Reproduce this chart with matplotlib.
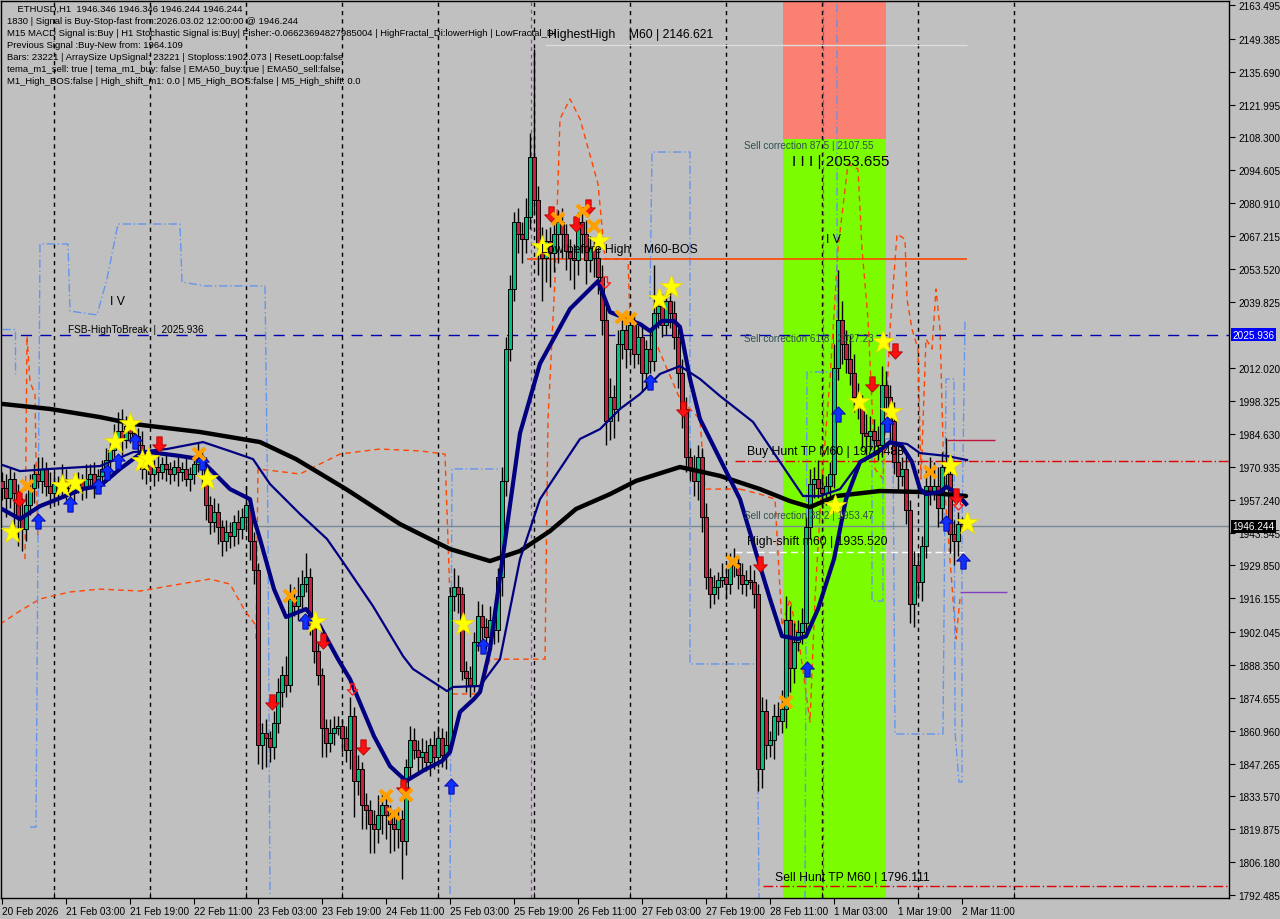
"""
    ethusd_h1_chart.py
    ~~~~~~~~~~~~~~~~~~

    :synopsis: MT4 風の ETHUSD H1 チャートを描く。
"""

# 3rd party modules
import numpy as np
from matplotlib import pyplot as plt
from matplotlib.path import Path
from matplotlib.patches import Rectangle


# ---- データ (価格はチャートから目視で読み取り) ----
first_open = 1965.0
closes = [
    1962, 1958, 1966, 1960, 1950, 1945, 1955, 1962, 1968, 1965, 1970, 1963, 1960,
    1964, 1961, 1966, 1962, 1960, 1963, 1965, 1962, 1966, 1968, 1964, 1967,
    1970, 1974, 1978, 1983, 1986, 1982, 1988, 1985,
    1984, 1980, 1970, 1973, 1968, 1971, 1969, 1972, 1970, 1968, 1971, 1969, 1970, 1966, 1968, 1972, 1975, 1970,
    1955, 1948, 1952, 1946, 1940, 1944, 1942, 1948, 1945, 1950, 1955, 1940, 1928,
    1855, 1860, 1858, 1854, 1864, 1877, 1884, 1880, 1916, 1913, 1917, 1922, 1925, 1905, 1894, 1884,
    1862, 1856, 1860, 1862, 1863, 1858, 1853, 1867, 1840, 1845, 1830, 1828, 1822, 1820, 1826, 1830, 1826, 1822, 1820, 1824,
    1815, 1846, 1857, 1853, 1850, 1852, 1848, 1855, 1850, 1858, 1851, 1855, 1917, 1921, 1918, 1886, 1883, 1880, 1898, 1909,
    1904, 1900, 1907, 1903, 1925, 1965, 2020, 2045,
    2073, 2068, 2066, 2075, 2100, 2082, 2063, 2058, 2065, 2060, 2068, 2073, 2068, 2061, 2058, 2057, 2073, 2068, 2057, 2062, 2058, 2050,
    2032, 1990, 2000, 1995, 2022, 2028, 2020, 2030, 2018, 2025, 2010, 2020, 2015, 2035, 2038, 2030, 2040, 2035, 2025, 2010,
    1995, 1975, 1970, 1965, 1975, 1950,
    1925, 1918, 1921, 1924, 1925, 1922, 1930, 1931, 1926, 1922, 1924, 1923, 1918, 1845, 1869, 1855, 1857, 1867, 1865, 1870,
    1907, 1887, 1898, 1902, 1906, 1946,
    1964, 1966, 1962, 1960, 1963, 1968, 2012, 2032, 2022, 2016, 2010, 2000, 1996, 1985, 1984, 1986, 1982, 1980, 2005, 2000,
    1990, 1973, 1967, 1970, 1953, 1914, 1930, 1923, 1938, 1963, 1961, 1963, 1954, 1971, 1968, 1943, 1940, 1947, 1946.244,
]
upper_wick = [
    4, 6, 5, 3, 4, 8, 5, 6, 4, 7, 5, 3, 6,
    5, 3, 6, 4, 3, 5, 4, 3, 6, 4, 5, 3,
    4, 5, 3, 6, 8, 9, 4, 5,
    4, 3, 6, 3, 4, 3, 5, 3, 4, 3, 3, 4, 3, 5, 3, 4, 6, 3,
    5, 4, 6, 4, 3, 5, 4, 3, 5, 4, 8, 3, 4,
    3, 4, 6, 3, 5, 6, 4, 8, 6, 5, 8, 6, 10, 4, 3, 4,
    3, 4, 6, 5, 4, 3, 5, 8, 4, 6, 3, 5, 4, 6, 8, 5, 3, 4, 6, 5,
    4, 3, 6, 5, 4, 6, 5, 3, 6, 5, 4, 6, 4, 8, 5, 3, 4, 5, 4, 6,
    5, 4, 6, 5, 4, 6, 5, 6,
    4, 6, 5, 8, 10, 45, 6, 8, 5, 6, 4, 5, 6, 4, 5, 6, 4, 5, 6, 5, 4, 6,
    5, 6, 8, 5, 6, 4, 5, 6, 4, 5, 6, 4, 8, 20, 6, 5, 4, 6, 5, 4, 6, 5, 4, 6, 5, 4,
    6, 4, 5, 3, 6, 4, 5, 6, 3, 5, 4, 6, 5, 4, 6, 5, 4, 5, 6, 8, 10, 6, 8, 5, 6, 4,
    6, 5, 8, 6, 4, 5, 10, 21, 8, 6, 10, 8, 6, 5, 8, 6, 5, 6, 8, 6,
    5, 8, 6, 5, 6, 4, 6, 5, 4, 8, 12, 10, 8, 6, 12, 8, 6, 5, 3,
]
lower_wick = [
    5, 8, 4, 15, 12, 9, 5, 4, 6, 3, 5, 4, 6,
    4, 6, 3, 5, 6, 4, 3, 5, 4, 3, 6, 4,
    3, 4, 5, 3, 4, 6, 3, 4,
    3, 5, 4, 6, 3, 5, 4, 3, 5, 4, 3, 6, 4, 3, 5, 4, 3, 6,
    6, 5, 4, 7, 6, 4, 5, 4, 6, 4, 5, 8, 6,
    8, 10, 12, 6, 5, 4, 6, 5, 3, 4, 6, 5, 3, 4, 5, 4,
    12, 6, 4, 5, 3, 6, 5, 8, 15, 6, 10, 8, 12, 10, 6, 8, 10, 12, 9, 8,
    16, 6, 5, 4, 6, 5, 4, 6, 5, 4, 5, 6, 3, 6, 8, 4, 6, 5, 3, 4,
    6, 5, 4, 6, 5, 8, 6, 5,
    5, 8, 10, 6, 5, 6, 12, 18, 10, 14, 8, 12, 10, 8, 9, 12, 6, 8, 10, 5, 8, 7,
    6, 10, 8, 12, 5, 6, 8, 5, 6, 4, 8, 6, 5, 4, 6, 5, 4, 6, 5, 6, 8, 6, 5, 6, 8, 6,
    5, 6, 4, 5, 3, 6, 4, 5, 6, 4, 5, 3, 6, 9, 8, 6, 5, 8, 6, 5, 8, 10, 6, 4, 5, 6,
    5, 6, 4, 6, 5, 4, 6, 5, 8, 6, 5, 6, 5, 6, 8, 6, 5, 6, 5, 6,
    8, 5, 6, 4, 6, 8, 10, 6, 8, 5, 6, 4, 8, 6, 5, 8, 10, 6, 2,
]

# 移動平均 (バー位置, 価格)
ema200_bar = [0, 12, 24.5, 33, 49.5, 64.5, 73.5, 86, 99.5, 112, 122, 129.5, 137, 143.5, 152,
              158.5, 169.5, 179.5, 189.5, 197, 202, 208.5, 219.5, 229.5, 241]
ema200_val = [1997.2, 1995.1, 1991.7, 1988.8, 1985.5, 1981.3, 1974.2, 1961.7, 1947.1, 1936.7,
              1931.7, 1935.9, 1944.2, 1953.4, 1959.6, 1965.1, 1970.9, 1967.2, 1961.7, 1956.7,
              1954.2, 1958.8, 1960.9, 1960.5, 1958.8]
ema_fast_bar = [0, 4.5, 9.5, 17, 20, 24.5, 29.5, 34.5, 37, 44.5, 49.5, 52, 57, 62, 63, 64.5, 68, 71,
                76, 79.5, 84, 87, 93, 97, 101, 106, 110, 112, 114.5, 118, 119.5, 122, 124.5, 129.5,
                134.5, 142, 149, 152, 154.5, 159.5, 162, 165, 168, 169.5, 172, 174.5, 179.5, 184.5,
                189.5, 192, 195, 199, 201, 204, 208, 211, 214.5, 219, 222, 225, 227.5, 229.5, 231,
                234.5, 236, 238, 239.5, 241]
ema_fast_val = [1953.4, 1949.2, 1954.6, 1959.6, 1961.7, 1963.0, 1970.1, 1976.3, 1977.1, 1975.5,
                1974.2, 1970.1, 1961.7, 1957.5, 1949.2, 1940.9, 1920.0, 1908.4, 1911.7, 1904.6,
                1890.8, 1882.5, 1858.7, 1846.2, 1840.0, 1845.0, 1848.3, 1852.1, 1868.8, 1874.2,
                1877.1, 1895.0, 1925.0, 1985.0, 2014.0, 2036.8, 2048.4, 2035.5, 2033.8, 2030.5,
                2027.6, 2031.8, 2031.8, 2029.3, 2007.6, 1990.9, 1974.2, 1957.5, 1929.6, 1915.9,
                1900.4, 1899.2, 1900.4, 1911.7, 1932.5, 1957.5, 1973.0, 1977.1, 1981.3, 1979.6,
                1973.0, 1961.7, 1959.6, 1960.5, 1962.6, 1960.9, 1958.4, 1955.5]
ema_slow_bar = [-0.5, 4.5, 12, 24.5, 32.75, 41.25, 50.25, 57.75, 62.75, 67, 74.5, 81.25, 85.25,
                92.75, 100.25, 102.75, 111.25, 112.75, 119.5, 124.5, 129.5, 134.5, 139.5, 144.5,
                149.5, 154.5, 159.5, 164.5, 169.5, 174.5, 179.5, 187.75, 194.5, 200.25, 204.5,
                209.5, 214.5, 219.5, 222.75, 226.25, 229.5, 236.25, 241.25]
ema_slow_val = [1972.1, 1969.2, 1970.1, 1971.3, 1977.1, 1978.4, 1981.3, 1977.1, 1974.2, 1963.8,
                1951.3, 1940.9, 1931.3, 1912.9, 1892.1, 1886.7, 1877.5, 1879.2, 1879.6, 1890.8,
                1932.5, 1957.5, 1970.1, 1982.6, 1986.7, 1995.1, 2001.3, 2009.7, 2013.0, 2007.6,
                2000.5, 1989.7, 1973.0, 1958.8, 1958.8, 1961.7, 1973.0, 1978.4, 1981.3, 1980.5,
                1976.7, 1975.5, 1973.8]

# 階段状の補助線 (オレンジ破線 / 青一点鎖線)
orange_steps = [
    ([5.75, 6.25, 7, 8.25, 8.5, 9],
     [1932.5, 2025.5, 2006.3, 2001.3, 1974.2, 1940.9]),
    ([-0.5, 4.5, 9.5, 17, 24.5, 34.5, 44.5, 52, 57, 60.75, 63.25],
     [1905.4, 1910.9, 1915.9, 1918.8, 1920.0, 1919.2, 1922.1, 1924.2, 1922.1, 1910.9, 1905.4]),
    ([63.5, 64, 74.5, 84.5, 94.5, 104.5, 110.75, 112, 112.5, 119.5, 122, 135.75, 136.5, 138.25,
      139.5, 142, 144.5, 149, 150.75, 156.5, 157, 162, 169.5, 174.5, 175.75, 184.5],
     [1899.2, 1970.1, 1968.0, 1976.3, 1978.4, 1977.6, 1976.3, 1915.9, 1876.3, 1876.3, 1890.8,
      1890.8, 1990.9, 2049.3, 2116.0, 2124.3, 2116.0, 2088.9, 2057.6, 2057.6, 2032.6, 2028.4,
      1999.2, 1990.9, 1961.7, 1961.7]),
    ([184.5, 189.5, 193.25, 195, 197, 199.5, 202, 203.25, 205, 207, 209, 211.5, 214, 215, 216.5,
      218.25, 220.25, 222, 223.75, 225.75, 226.25, 227.5, 229, 229.75, 231, 232.5, 233.5, 234.5,
      235.5, 237, 238.5, 239.5],
     [1961.7, 1959.6, 1957.5, 1904.6, 1915.9, 1895.0, 1864.6, 1915.9, 1965.9, 2007.6, 2061.8,
      2097.2, 2095.1, 2061.8, 2032.6, 1970.1, 1965.9, 2028.4, 2068.0, 2065.9, 2040.9, 2028.4,
      2020.1, 1965.9, 2024.3, 2020.1, 2045.1, 2028.4, 1965.9, 1932.5, 1899.2, 1915.9]),
]
blue_steps = [
    ([0, 3.25, 3.25], [2028.4, 2028.4, 2009.7]),
    ([7, 8.5, 9, 9.5, 16.5, 17, 23.75, 26.25, 29, 44.5, 45, 50.75, 65.75, 66.5, 67],
     [1820.8, 1820.8, 1940.9, 2063.9, 2063.9, 2035.9, 2034.3, 2049.3, 2072.2, 2072.2, 2048.0,
      2046.4, 2046.4, 1945.0, 1792.9]),
    ([112, 112.5, 124], [1792.9, 1970.1, 1970.1]),
    ([162, 162.5, 172, 172, 188.75, 189.25], [2040.9, 2102.2, 2102.2, 1888.8, 1888.8, 1790.8]),
    ([200.75, 201.25, 208.75, 208.75], [1790.8, 2010.5, 2010.5, 2163.9]),
    ([217.5, 217.5, 220.25, 220.25, 222.75, 223.25, 235.25, 236, 238, 238.25, 239.25, 240, 240, 240.75],
     [1982.6, 1915.0, 1915.0, 1982.6, 1982.6, 1859.6, 1859.6, 2007.6, 2007.6, 1860.4, 1839.6,
      1839.6, 1945.0, 2032.6]),
]

# シグナル (バー位置, 価格)
star_bar = [2.5, 15, 18.25, 28.25, 32, 35, 36.5, 51.25, 78.25, 115.25, 135, 149.25, 164.25,
            167.25, 220.25, 214.25, 222.25, 208.25, 237, 241.25]
star_val = [1943.8, 1963.0, 1964.2, 1981.3, 1988.8, 1973.4, 1974.2, 1965.9, 1906.3, 1905.4,
            2062.6, 2065.1, 2040.9, 2045.9, 2023.0, 1998.0, 1993.8, 1954.6, 1971.3, 1947.5]
buy_bar = [9, 17, 24, 26.25, 29, 33.25, 50, 75.75, 112.25, 120.25, 162, 209, 221.25, 236, 240.25, 201.25]
buy_val = [1948.4, 1955.5, 1963.0, 1968.8, 1973.4, 1981.7, 1973.0, 1906.7, 1837.9, 1896.3,
           2006.3, 1993.0, 1988.8, 1947.5, 1931.7, 1886.7]
sell_bar = [4.25, 39.25, 67.5, 80.25, 90.25, 100.25, 137.25, 143.5, 146.5, 170.25, 189.5,
            223.25, 217.5, 238.5]
sell_val = [1957.5, 1980.5, 1872.9, 1898.4, 1854.2, 1837.5, 2076.4, 2072.2, 2079.3, 1995.1,
            1930.4, 2019.3, 2005.5, 1958.8]
cross_bar = [6.25, 49.25, 72, 96, 98, 101, 139, 145.25, 148, 155, 157, 196, 182.75, 232]
cross_val = [1963.0, 1976.3, 1917.1, 1833.7, 1826.2, 1834.1, 2074.3, 2077.6, 2071.4, 2033.4,
             2032.6, 1872.9, 1931.3, 1968.8]
exit_bar = [87.5, 150.75, 239]
exit_val = [1878.3, 2048.0, 1955.6]

# 価格軸・時間軸
price_ticks = [2163.495, 2149.385, 2135.690, 2121.995, 2108.300, 2094.605, 2080.910, 2067.215,
               2053.520, 2039.825, 2012.020, 1998.325, 1984.630, 1970.935, 1957.240, 1943.545,
               1929.850, 1916.155, 1902.045, 1888.350, 1874.655, 1860.960, 1847.265, 1833.570,
               1819.875, 1806.180, 1792.485]
time_tick_bar = [0, 16, 32, 48, 64, 80, 96, 112, 128, 144, 160, 176, 192, 208, 224, 240]
time_tick_label = ['20 Feb 2026', '21 Feb 03:00', '21 Feb 19:00', '22 Feb 11:00', '23 Feb 03:00',
                   '23 Feb 19:00', '24 Feb 11:00', '25 Feb 03:00', '25 Feb 19:00', '26 Feb 11:00',
                   '27 Feb 03:00', '27 Feb 19:00', '28 Feb 11:00', '1 Mar 03:00', '1 Mar 19:00',
                   '2 Mar 11:00']
day_start_bar = [13, 37, 61, 85, 109, 133, 157, 181, 205, 229, 253]

# 水平ライン・ゾーン
fsb_high = 2025.936
bid_price = 1946.244
buy_hunt_tp = 1973.488
sell_hunt_tp = 1796.111
high_shift = 1935.520
highest_high = 2146.621
low_before_high = 2057.6
zone_start_bar, zone_end_bar = 195.25, 221.0
zone_split = 2107.55

header_lines = [
    '    ETHUSD,H1  1946.346 1946.346 1946.244 1946.244',
    '1830 | Signal is Buy-Stop-fast from:2026.03.02 12:00:00 @ 1946.244',
    'M15 MACD Signal is:Buy | H1 Stochastic Signal is:Buy| Fisher:-0.06623694827985004 | '
    'HighFractal_Di:lowerHigh | LowFractal_Di',
    'Previous Signal :Buy-New from: 1964.109',
    'Bars: 23221 | ArraySize UpSignal: 23221 | Stoploss:1902.073 | ResetLoop:false',
    'tema_m1_sell: true | tema_m1_buy: false | EMA50_buy:true | EMA50_sell:false',
    'M1_High_BOS:false | High_shift_m1: 0.0 | M5_High_BOS:false | M5_High_shift: 0.0',
]

BG = '#c0c0c0'
UP_COLOR = '#00c080'
DOWN_COLOR = '#c81e3c'
FONT = 'Liberation Sans'


def arrow_marker(up=True):
    """太い矢印マーカーを作る。"""
    s = 1 if up else -1
    verts = [(0, s * 1.0), (-0.9, s * 0.05), (-0.35, s * 0.05), (-0.35, -s * 1.0),
             (0.35, -s * 1.0), (0.35, s * 0.05), (0.9, s * 0.05), (0, s * 1.0)]
    return Path(verts, closed=True)


def draw_candles(ax):
    c = np.array(closes, dtype=float)
    o = np.concatenate([[first_open], c[:-1]])
    hi = np.maximum(o, c) + np.array(upper_wick)
    lo = np.minimum(o, c) - np.array(lower_wick)
    x = np.arange(len(c))
    ax.vlines(x, lo, hi, color='black', lw=1.0, zorder=3)
    body = np.maximum(np.abs(c - o), 0.35)
    colors = np.where(c >= o, UP_COLOR, DOWN_COLOR)
    ax.bar(x, body, bottom=np.minimum(o, c), width=0.78, color=colors,
           edgecolor='black', linewidth=0.7, zorder=3)


def main():
    assert len(closes) == len(upper_wick) == len(lower_wick)

    fig = plt.figure(figsize=(12.8, 9.2), dpi=100, facecolor=BG)
    ax = fig.add_axes([1 / 1280, 21 / 920, 1228 / 1280, 897 / 920], facecolor=BG)
    ax.set_xlim(-0.25, 306.75)
    ax.set_ylim(1791.24, 2165.16)

    # ゾーン
    ax.add_patch(Rectangle((zone_start_bar, zone_split), zone_end_bar - zone_start_bar,
                           2170 - zone_split, color='#fa8072', lw=0, zorder=0.5))
    ax.add_patch(Rectangle((zone_start_bar, 1780), zone_end_bar - zone_start_bar,
                           zone_split - 1780, color='#7cfc00', lw=0, zorder=0.5))

    # 日付区切り
    for b in day_start_bar:
        ax.axvline(b, color='black', lw=1, ls=(0, (3, 3)), zorder=0.6)
    for b in (132.25, 205.25):
        ax.axvline(b, color='#a040b0', lw=0.9, ls=(0, (3, 3)), zorder=0.7)

    # 補助線
    for xs, ys in orange_steps:
        ax.plot(xs, ys, color='#ff4500', lw=1, ls=(0, (4, 3)), zorder=1)
    for xs, ys in blue_steps:
        ax.plot(xs, ys, color='#6495ed', lw=1, ls=(0, (6, 2, 1, 2)), zorder=1)

    # 水平ライン
    ax.axhline(fsb_high, color='#0000b0', lw=1, ls=(0, (8, 6)), zorder=1.5)
    ax.axhline(bid_price, color='#778899', lw=1, zorder=1.5)
    ax.hlines(buy_hunt_tp, 183.25, 306.75, color='#e00000', lw=1, ls=(0, (7, 2, 1, 2)), zorder=1.5)
    ax.hlines(sell_hunt_tp, 190.25, 306.75, color='#e00000', lw=1, ls=(0, (7, 2, 1, 2)), zorder=1.5)
    ax.hlines(high_shift, 183.25, 240.75, color='white', lw=1, ls=(0, (5, 3)), zorder=1.5)
    ax.hlines(highest_high, 135.75, 241.25, color='#dcdcdc', lw=1, zorder=1.5)
    ax.hlines(low_before_high, 131.25, 241.25, color='#ff4500', lw=1.2, zorder=1.5)
    ax.hlines(1982.2, 236.25, 248.25, color='#c0143c', lw=1, zorder=1.5)
    ax.hlines(1918.8, 239.5, 251.25, color='#8040c0', lw=1, zorder=1.5)

    draw_candles(ax)

    # 移動平均
    ax.plot(ema200_bar, ema200_val, color='black', lw=3.2, zorder=4, solid_capstyle='round')
    ax.plot(ema_slow_bar, ema_slow_val, color='#000080', lw=1.6, zorder=4)
    ax.plot(ema_fast_bar, ema_fast_val, color='#000080', lw=3.0, zorder=4)

    # シグナル
    ax.plot(star_bar, star_val, ls='none', marker='*', ms=17, color='#ffff00',
            markeredgecolor='#e8d800', markeredgewidth=0.5, zorder=5)
    ax.plot(buy_bar, buy_val, ls='none', marker=arrow_marker(True), ms=11, color='#1030ff',
            markeredgecolor='#0000a0', markeredgewidth=0.6, zorder=5)
    ax.plot(sell_bar, sell_val, ls='none', marker=arrow_marker(False), ms=11, color='#ff1010',
            markeredgecolor='#b00000', markeredgewidth=0.6, zorder=5)
    ax.plot(cross_bar, cross_val, ls='none', marker='x', ms=9, color='#ffa000',
            markeredgewidth=3, zorder=5)
    ax.plot(exit_bar, exit_val, ls='none', marker=arrow_marker(False), ms=8, color='none',
            markeredgecolor='#ff2020', markeredgewidth=1, zorder=5)

    # ラベル
    small = dict(family=FONT, fontsize=7.2, va='center', zorder=6)
    mid = dict(family=FONT, fontsize=8.8, va='center', zorder=6)
    ax.text(16.5, 2028.4, 'FSB-HighToBreak  |  2025.936', color='black', **small)
    ax.text(27, 2040.1, 'I V', color='black', **mid)
    ax.text(206, 2065.9, 'I V', color='black', **mid)
    ax.text(134.75, 2061.8, 'Low before High    M60-BOS', color='black', **mid)
    ax.text(136.5, 2151.4, 'HighestHigh    M60 | 2146.621', color='black', **mid)
    ax.text(185.5, 2105.1, 'Sell correction 87.5 | 2107.55', color='#2f4f4f', **small)
    ax.text(197.5, 2098.3, 'I I I | 2053.655', color='black', family=FONT, fontsize=11,
            va='center', zorder=6)
    ax.text(185.5, 2024.7, 'Sell correction 61.8 | 2027.23', color='#2f4f4f', **small)
    ax.text(186.25, 1977.6, 'Buy Hunt TP M60 | 1973.488', color='black', **mid)
    ax.text(185.5, 1950.9, 'Sell correction 38.2 | 1953.47', color='#2f4f4f', **small)
    ax.text(186.25, 1940.0, 'High-shift m60 | 1935.520', color='black', **mid)
    ax.text(193.25, 1800.0, 'Sell Hunt TP M60 | 1796.111', color='black', **mid)

    # 価格軸
    ax.yaxis.tick_right()
    ax.set_yticks(price_ticks)
    ax.set_yticklabels(['%.3f' % p for p in price_ticks], family=FONT, fontsize=7.2)
    ax.tick_params(axis='y', direction='out', length=4, pad=3, colors='black')
    ytr = ax.get_yaxis_transform()
    ax.text(1.003, fsb_high, '%.3f' % fsb_high, transform=ytr, color='white', family=FONT,
            fontsize=7.2, va='center', ha='left', zorder=7,
            bbox=dict(boxstyle='square,pad=0.15', fc='#0000ff', ec='none'))
    ax.text(1.003, bid_price, '%.3f' % bid_price, transform=ytr, color='white', family=FONT,
            fontsize=7.2, va='center', ha='left', zorder=7,
            bbox=dict(boxstyle='square,pad=0.15', fc='black', ec='none'))

    # 時間軸
    ax.set_xticks(time_tick_bar)
    ax.set_xticklabels(time_tick_label, family=FONT, fontsize=7.2, ha='left')
    ax.set_xticks(day_start_bar, minor=True)
    ax.tick_params(axis='x', which='major', direction='out', length=4, pad=2)
    ax.tick_params(axis='x', which='minor', direction='in', length=4)

    for sp in ax.spines.values():
        sp.set_color('black')
        sp.set_linewidth(1)

    # ヘッダー
    for i, line in enumerate(header_lines):
        fig.text(7 / 1280, 1 - (9 + 12 * i) / 920, line, family=FONT, fontsize=6.8,
                 va='center', ha='left', color='black')

    fig.savefig('out.png', dpi=100, facecolor=BG)


if __name__ == '__main__':
    main()
